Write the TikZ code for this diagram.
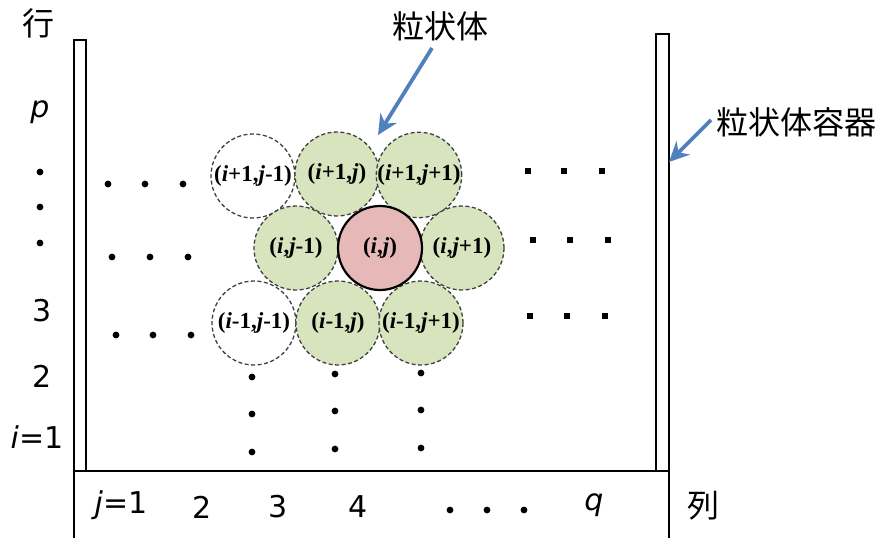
\documentclass[tikz,border=0pt]{standalone}
\usepackage{fontspec}
\setmainfont{DejaVu Sans}
\newfontfamily\cjk{Noto Sans CJK JP}
\newfontfamily\tms{Liberation Serif}
\usetikzlibrary{arrows.meta}
\definecolor{pgreen}{HTML}{D7E4BD}
\definecolor{pred}{HTML}{E6B9B8}
\definecolor{arrblue}{HTML}{4F81BD}
\tikzset{
  wall/.style={draw=black, line width=2.6pt, fill=white},
  lbl/.style={inner sep=0pt, font=\fontsize{30}{34}\selectfont},
  cj/.style={inner sep=0pt, font=\cjk\fontsize{32}{36}\selectfont},
  part/.style={circle, minimum size=84pt, inner sep=0pt, draw=black!75, dashed, dash pattern=on 4pt off 2.5pt, line width=1.3pt, font=\tms\bfseries\fontsize{23}{26}\selectfont},
  grn/.style={part, fill=pgreen},
  wht/.style={part, fill=white},
  ctr/.style={circle, minimum size=84pt, inner sep=0pt, draw=black, line width=2.2pt, fill=pred, font=\tms\bfseries\fontsize{23}{26}\selectfont},
  barrow/.style={draw=arrblue, line width=3.8pt, -{Stealth[length=20pt,width=19pt]}},
}
\newcommand{\ii}{\textit{i}}
\newcommand{\jj}{\textit{j}}
\begin{document}
\begin{tikzpicture}[x=1pt,y=-1pt]
\useasboundingbox (0,0) rectangle (879,538);
% container
\draw[line width=2.6pt] (74,545) -- (74,471) -- (669,471) -- (669,545);
\draw[wall] (74,40) rectangle (86,471);
\draw[wall] (656,34) rectangle (669,471);
% particles
\node[wht] (a1) at (253,176) {(\ii+1,\jj-1)};
\node[grn] (a2) at (337,174) {(\ii+1,\jj)};
\node[grn] (a3) at (419,175) {(\ii+1,\jj+1)};
\node[grn] (b1) at (296,248) {(\ii,\jj-1)};
\node[grn] (b3) at (462,248) {(\ii,\jj+1)};
\node[wht] (c1) at (254,323) {(\ii-1,\jj-1)};
\node[grn] (c2) at (338,323) {(\ii-1,\jj)};
\node[grn] (c3) at (421,323) {(\ii-1,\jj+1)};
\node[ctr] (b2) at (380,248) {(\ii,\jj)};
% round dots
\foreach \x/\y in {108/184,145/184,183/184,112/257,150/257,188/257,116/335,153/335,191/335,
                   252/377,252/414,252/452,335/374,335/411,335/449,421/373,421/410,421/448,
                   40/172,40/207,40/243,450/510,487/510,524/510}
  \fill (\x,\y) circle (3.4pt);
% square dots
\foreach \x/\y in {528/171,564/171,602/171,533/240,570/240,608/240,530/316,567/316,605/316}
  \fill (\x-3.4,\y-3.4) rectangle (\x+3.4,\y+3.4);
% axis labels
\node[cj] (row) at (39,23) {行};
\node[lbl] (lp) at (40,112) {\itshape p};
\node[lbl] (l3) at (42,311) {3};
\node[lbl] (l2) at (42,376) {2};
\node[lbl] (l1) at (37,437) {\itshape i\upshape=1};
\node[lbl] (c1l) at (121,505) {\itshape j\upshape=1};
\node[lbl] (c2l) at (202,507) {2};
\node[lbl] (c3l) at (278,507) {3};
\node[lbl] (c4l) at (358,507) {4};
\node[lbl] (cq) at (594,505) {\itshape q};
\node[cj] (col) at (703,506) {列};
% callouts
\node[cj] (t1) at (440,26) {粒状体};
\node[cj] (t2) at (796,122) {粒状体容器};
\coordinate (t1s) at (432,48);
\coordinate (t1e) at (378,135);
\coordinate (t2s) at (711,120);
\coordinate (t2e) at (669,162);
\draw[barrow] (t1s) -- (t1e);
\draw[barrow] (t2s) -- (t2e);
\end{tikzpicture}
\end{document}
